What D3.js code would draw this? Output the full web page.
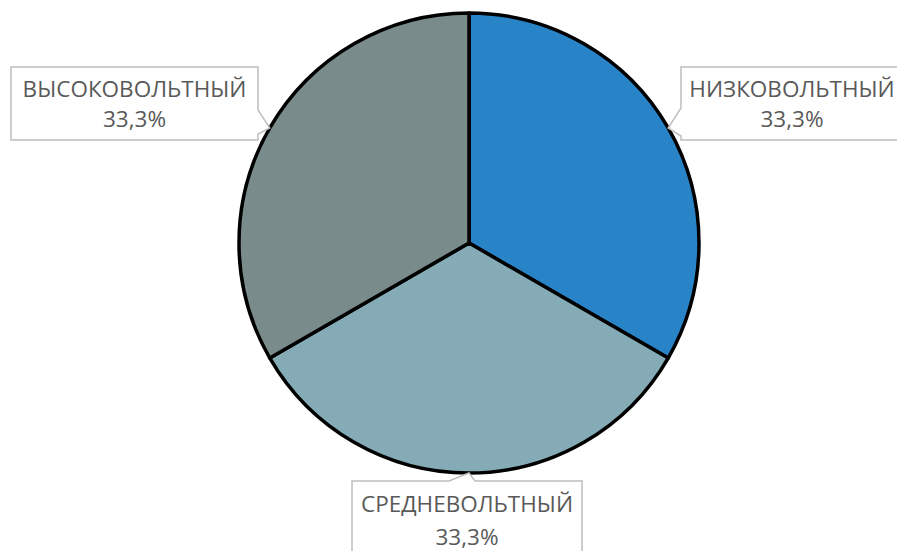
<!DOCTYPE html>
<html>
<head>
<meta charset="utf-8">
<script src="https://cdn.jsdelivr.net/npm/d3@7"></script>
<style>
  body { margin: 0; background: #fff; }
  svg { display: block; }
  .lbl { font-family: "Open Sans", "Noto Sans", sans-serif; font-size: 22.5px; fill: #595959; }
</style>
</head>
<body>
<svg id="chart" width="897" height="551"></svg>
<script>
"use strict";

// categories and shares (percent)
const categories = ["НИЗКОВОЛЬТНЫЙ", "СРЕДНЕВОЛЬТНЫЙ", "ВЫСОКОВОЛЬТНЫЙ"];
const shares = [33.3, 33.3, 33.3];
const colors = ["#2983c7", "#85acb6", "#7a8b8c"];

const width = 897, height = 551;
const cx = 469, cy = 243, radius = 230;

const svg = d3.select("#chart");

let data = categories.map((c, i) => ({ name: c, value: shares[i], color: colors[i] }));
let total = d3.sum(data, d => d.value);

let pie = d3.pie().sort(null).value(d => d.value);
let arc = d3.arc().innerRadius(0).outerRadius(radius);
let arcs = pie(data);

let g = svg.append("g").attr("transform", `translate(${cx}, ${cy})`);

g.selectAll(".slice")
  .data(arcs)
  .enter()
  .append("path")
  .classed("slice", true)
  .attr("d", arc)
  .attr("fill", d => d.data.color)
  .attr("stroke", "#000")
  .attr("stroke-width", 3.5)
  .attr("stroke-linejoin", "round");

// label boxes: center of box relative to the pie center, plus baseline offsets
const boxes = [
  { x: 323, y: -139.5, w: 222, h: 73, l1: -6.5, l2: 23.5 },
  { x: -2, y: 277, w: 230, h: 78, l1: -8, l2: 25 },
  { x: -334.5, y: -139.5, w: 247, h: 73, l1: -6.5, l2: 23.5 }
];

function calloutPath(b, tip) {
  let x0 = b.x - b.w / 2, x1 = b.x + b.w / 2;
  let y0 = b.y - b.h / 2, y1 = b.y + b.h / 2;
  let pts;
  if (tip[0] > x1) {
    // pointer on right edge
    pts = [[x0, y0], [x1, y0], [x1, tip[1] - 18], tip, [x1, tip[1] + 6], [x1, y1], [x0, y1]];
  } else if (tip[0] < x0) {
    pts = [[x0, y0], [x1, y0], [x1, y1], [x0, y1], [x0, tip[1] + 8], tip, [x0, tip[1] - 20]];
  } else {
    pts = [[x0, y0], [tip[0] - 20, y0], tip, [tip[0] + 6, y0], [x1, y0], [x1, y1], [x0, y1]];
  }
  return d3.line()(pts) + "Z";
}

let labels = g.selectAll(".label")
  .data(arcs)
  .enter()
  .append("g")
  .classed("label", true);

labels.append("path")
  .attr("d", (d, i) => {
    let a = (d.startAngle + d.endAngle) / 2;
    let tip = [Math.sin(a) * radius, -Math.cos(a) * radius];
    return calloutPath(boxes[i], tip);
  })
  .attr("fill", "#fff")
  .attr("stroke", "#bfbfbf")
  .attr("stroke-width", 1.5);

labels.append("text")
  .classed("lbl", true)
  .attr("text-anchor", "middle")
  .attr("x", (d, i) => boxes[i].x)
  .attr("y", (d, i) => boxes[i].y + boxes[i].l1)
  .text(d => d.data.name);

labels.append("text")
  .classed("lbl", true)
  .attr("text-anchor", "middle")
  .attr("x", (d, i) => boxes[i].x)
  .attr("y", (d, i) => boxes[i].y + boxes[i].l2)
  .text(d => (d.data.value / total * 100).toFixed(1).replace(".", ",") + "%");
</script>
</body>
</html>
